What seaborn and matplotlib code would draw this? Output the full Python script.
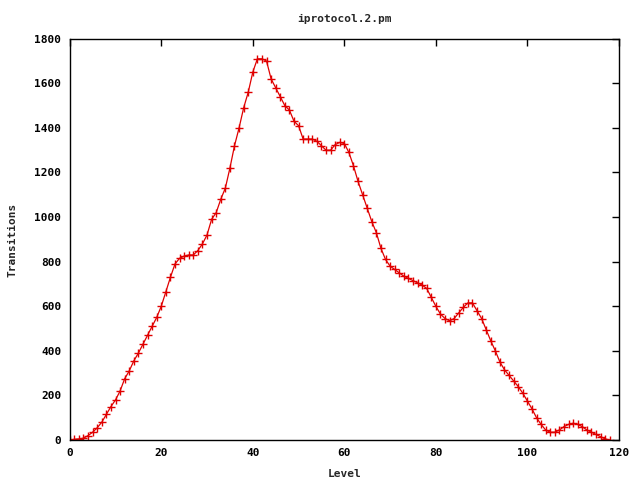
import numpy as np
import pandas as pd
import matplotlib
matplotlib.use("Agg")
import matplotlib.pyplot as plt
import seaborn as sns

# transitions per level
levels = list(range(0, 119))
transitions = [
    0, 3, 5, 8, 20, 35, 55, 80, 115, 150,
    180, 220, 275, 310, 355, 390, 430, 470, 510, 550,
    600, 665, 730, 790, 815, 825, 830, 830, 850, 880,
    920, 990, 1020, 1080, 1130, 1220, 1320, 1400, 1490, 1560,
    1650, 1710, 1710, 1700, 1620, 1580, 1540, 1500, 1480, 1430,
    1410, 1350, 1350, 1350, 1340, 1320, 1300, 1300, 1325, 1335,
    1330, 1290, 1230, 1160, 1100, 1040, 980, 930, 860, 810,
    780, 765, 750, 735, 725, 715, 705, 695, 680, 640,
    600, 565, 545, 535, 545, 570, 595, 615, 615, 580,
    545, 495, 445, 400, 350, 315, 290, 265, 240, 210,
    175, 140, 100, 70, 45, 35, 35, 45, 60, 70,
    75, 70, 60, 45, 35, 25, 15, 5, 0,
]

df = pd.DataFrame({"Level": levels, "Transitions": transitions})

sns.set_style("white")
plt.rcParams['font.family'] = ['DejaVu Sans Mono']
plt.rcParams['font.weight'] = 'bold'
plt.rcParams['font.size'] = 8

fig = plt.figure(figsize=(6.4, 4.8), dpi=100)
ax = fig.add_axes([0.109, 0.0833, 0.858, 0.836])

sns.lineplot(data=df, x="Level", y="Transitions", ax=ax, color="#e00000",
             linewidth=0.9, marker="+", markersize=6, markeredgewidth=1.0,
             markeredgecolor="#e00000")

ax.set_xlim(0, 120)
ax.set_ylim(0, 1800)
ax.set_xticks(range(0, 121, 20))
ax.set_yticks(range(0, 1801, 200))
ax.tick_params(direction="in", length=5, width=1, top=True, right=True,
               labelsize=8, pad=6, colors="black")
for s in ax.spines.values():
    s.set_color("black")
    s.set_linewidth(1)

ax.set_title("iprotocol.2.pm", fontsize=8, fontweight="bold", pad=12)
ax.set_xlabel("Level", fontsize=8, fontweight="bold", labelpad=8)
ax.set_ylabel("Transitions", fontsize=8, fontweight="bold", labelpad=12)

fig.savefig("out.png", dpi=100)
